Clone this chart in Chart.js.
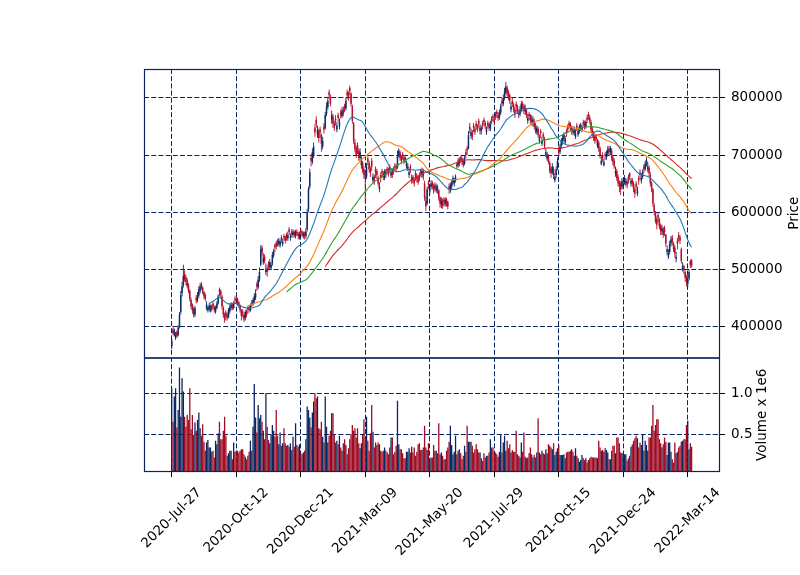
<!DOCTYPE html>
<html>
<head>
<meta charset="utf-8">
<script src="https://cdn.jsdelivr.net/npm/chart.js@4"></script>
<style>
  html, body { margin: 0; padding: 0; background: #fff; }
  canvas { display: block; }
</style>
</head>
<body>
<canvas id="chart" width="800" height="575"></canvas>
<script>
// daily candles, prices in thousands of won
const opens = [
  365,395,385,380,390,385,400,425,458,472, 492,486,480,472,462,446,438,430,420,450,
  446,454,462,474,468,460,455,432,428,430, 428,436,440,434,426,432,440,464,462,452,
  432,420,424,420,416,426,432,438,432,448, 450,448,442,436,428,426,420,414,426,432,
  434,428,442,438,444,450,474,468,482,508, 538,512,522,495,502,510,504,502,510,524,
  542,546,550,544,542,556,544,558,556,560, 554,570,555,566,560,565,558,566,562,556,
  568,566,558,563,558,570,605,645,695,688, 700,748,762,735,742,745,735,715,750,748,
  772,784,810,802,762,768,755,764,745,770, 750,775,768,780,786,782,810,808,818,808,
  785,755,722,712,718,708,695,682,686,675, 668,662,694,686,676,690,655,662,675,672,
  660,640,665,672,668,660,672,676,674,680, 664,672,676,682,680,678,700,705,698,702,
  696,696,680,676,665,680,655,662,656,668, 664,660,666,672,665,672,650,620,615,652,
  636,644,652,646,648,638,645,638,625,612, 620,622,614,622,618,645,638,645,652,650,
  655,684,682,692,696,694,690,685,705,712, 712,750,734,740,752,746,755,750,760,742,
  748,756,762,756,740,756,754,746,764,768, 764,772,776,770,766,774,795,790,800,810,
  818,810,805,780,795,788,780,790,785,776, 772,780,790,786,776,778,760,772,768,765,
  756,760,752,740,746,725,742,720,736,728, 700,694,698,686,676,670,676,656,665,678,
  710,706,716,724,728,722,742,750,756,754, 748,745,738,732,752,736,742,746,744,758,
  756,750,766,772,766,758,746,738,732,732, 716,722,712,684,700,682,702,696,702,712,
  705,708,696,690,668,672,662,652,650,645, 645,652,650,654,662,668,650,656,650,640,
  650,632,660,670,655,662,680,675,684,675, 678,665,650,640,612,598,588,595,588,576,
  566,570,572,560,530,522,530,545,555,545, 538,518,550,560,556,535,500,505,495,486,
  474,484,514,515
];
const highs = [
  380,400,396,390,393,402,425,462,478,508, 498,490,484,476,465,450,440,434,436,455,
  460,470,476,478,470,462,458,444,436,440, 438,438,444,437,436,444,456,468,465,455,
  436,424,428,424,432,438,442,440,444,452, 454,450,444,438,430,430,422,428,430,436,
  437,440,446,450,458,465,478,488,503,542, 542,528,526,510,506,514,518,512,530,536,
  545,550,553,555,552,560,554,562,559,564, 566,574,563,570,570,568,569,570,565,566,
  572,568,566,566,572,606,645,676,702,712, 722,755,768,752,746,750,738,732,756,776,
  792,802,815,806,778,772,760,770,758,774, 764,780,784,785,790,800,815,812,822,810,
  788,758,728,716,722,712,712,698,690,680, 672,686,698,690,680,695,668,666,680,676,
  664,652,670,676,672,675,676,680,678,684, 676,676,680,686,684,708,712,708,700,706,
  700,698,690,686,676,684,666,665,660,672, 668,664,670,676,678,676,655,628,645,656,
  648,656,655,650,652,650,648,640,628,626, 624,626,626,625,620,650,652,656,664,660,
  666,688,695,696,699,698,694,700,710,716, 742,756,746,744,756,750,760,754,764,754,
  752,760,766,760,750,760,758,760,768,772, 768,776,780,775,780,790,800,806,818,828,
  822,814,808,792,800,792,784,794,788,780, 786,795,794,790,788,782,772,776,772,770,
  768,764,756,752,750,736,746,732,740,732, 712,706,702,690,680,686,680,668,680,696,
  715,720,730,736,740,734,746,754,760,758, 752,750,750,744,756,748,754,756,754,762,
  760,762,770,776,770,762,750,742,736,736, 728,726,715,698,705,694,706,708,716,716,
  716,712,700,694,680,676,666,656,654,660, 656,665,660,658,666,670,660,660,654,645,
  654,645,664,675,668,675,684,690,696,688, 682,670,654,642,616,602,592,600,590,580,
  578,574,576,562,542,535,550,558,560,548, 542,530,555,565,560,538,512,508,498,490,
  488,500,517,518
];
const lows = [
  360,384,382,376,380,382,396,420,452,468, 478,472,466,458,444,430,422,416,416,440,
  442,450,458,464,456,448,444,428,424,426, 424,426,430,424,422,430,438,452,450,430,
  415,406,410,410,414,422,428,428,430,440, 442,436,432,424,410,416,407,410,416,422,
  424,426,434,436,440,446,462,465,478,505, 522,508,510,490,487,498,500,498,506,520,
  530,535,540,540,538,546,540,550,545,550, 550,560,550,556,555,556,554,558,552,552,
  560,556,554,552,554,566,600,640,680,684, 695,732,748,730,722,730,706,710,738,745,
  768,780,798,785,755,748,742,752,740,758, 745,764,765,768,775,778,798,795,805,785,
  755,720,705,695,702,690,690,676,668,658, 615,658,682,670,662,672,650,648,660,658,
  645,635,652,660,656,656,660,666,662,668, 660,660,666,672,670,676,696,690,684,692,
  684,686,676,672,660,668,650,650,645,655, 652,648,654,662,660,656,620,602,612,640,
  630,640,640,632,636,634,632,620,608,607, 606,610,610,610,605,632,634,640,648,645,
  652,676,678,680,686,682,678,682,694,700, 710,738,728,726,740,735,744,740,748,736,
  736,745,752,745,735,746,742,742,754,758, 752,762,765,760,762,770,784,786,796,806,
  802,796,790,775,784,775,765,775,772,765, 768,775,780,772,770,765,755,762,755,752,
  750,745,738,736,730,720,730,716,725,710, 696,690,684,668,660,666,658,652,660,674,
  698,702,712,718,724,718,732,740,746,742, 736,735,734,728,742,732,738,742,740,750,
  745,746,756,762,755,740,732,725,720,722, 712,706,694,682,688,680,692,692,698,700,
  700,690,682,676,662,655,645,635,630,640, 640,648,645,642,650,656,645,645,635,625,
  638,628,648,658,650,658,668,672,680,670, 662,645,635,610,594,580,570,582,570,560,
  560,555,558,540,525,518,526,540,542,530, 520,512,535,548,544,510,496,492,478,470,
  468,480,502,503
];
const closes = [
  375,388,392,386,383,398,420,455,470,488, 482,478,470,462,448,435,428,420,432,445,
  455,465,470,468,460,452,448,438,432,436, 433,430,435,428,432,440,452,460,455,435,
  420,412,418,415,428,434,438,432,440,445, 447,441,436,428,418,422,412,425,420,430,
  428,436,440,446,452,458,470,482,495,535, 528,520,515,500,495,505,512,508,525,532,
  538,540,545,550,548,552,548,555,550,556, 560,565,558,562,566,560,565,562,558,562,
  565,560,562,558,566,600,640,670,690,705, 715,740,755,745,730,740,720,725,745,770,
  785,795,805,790,770,755,748,760,752,765, 758,770,778,772,780,795,805,800,812,790,
  760,725,710,700,712,695,705,690,672,665, 660,680,688,675,668,680,662,655,670,665,
  650,645,660,668,662,670,665,672,668,675, 670,665,672,678,676,700,708,695,690,698,
  688,692,685,680,670,675,660,655,650,662, 658,652,660,668,672,662,625,610,640,648,
  642,650,645,638,642,645,638,625,615,620, 612,618,622,615,610,640,648,652,660,655,
  662,680,690,685,692,688,682,695,700,708, 735,745,740,732,748,740,750,745,755,748,
  742,752,758,750,745,752,748,755,760,765, 758,768,772,765,775,785,790,800,812,820,
  808,802,795,785,790,780,772,785,778,770, 780,790,785,778,782,770,765,768,760,758,
  762,750,742,748,735,730,738,725,732,715, 705,700,688,672,668,680,665,662,675,690,
  705,715,725,730,735,728,738,745,752,748, 742,740,745,738,748,742,750,752,748,755,
  750,758,762,768,760,745,738,730,725,728, 722,712,700,690,695,688,698,702,710,705,
  712,695,688,680,672,660,650,645,640,655, 650,660,655,648,658,662,655,650,640,632,
  645,638,655,665,660,670,675,685,692,680, 668,650,640,615,600,585,578,590,575,568,
  572,560,565,545,535,528,545,552,548,535, 528,522,545,555,550,515,505,498,485,478,
  482,495,508,506
];
// volume in millions of shares
const volumes = [
  1.06,0.66,0.96,1.06,0.59,0.80,1.31,0.72,1.18,1.02, 0.72,0.60,0.74,0.68,1.06,0.57,0.74,0.50,0.65,0.55,
  0.68,0.77,0.58,0.49,0.63,0.42,0.31,0.41,0.44,0.35, 0.35,0.30,0.31,0.23,0.43,0.39,0.52,0.66,0.45,0.45,
  0.55,0.72,0.49,0.25,0.28,0.31,0.31,0.21,0.41,0.30, 0.31,0.31,0.29,0.31,0.33,0.33,0.27,0.24,0.21,0.25,
  0.30,0.43,0.31,0.60,1.11,0.71,0.53,0.86,0.70,0.74, 0.66,0.55,0.45,1.00,0.60,0.44,0.40,0.50,0.62,0.55,
  0.48,0.80,0.49,0.39,0.53,0.37,0.40,0.58,0.40,0.37, 0.38,0.36,0.40,0.32,0.48,0.36,0.64,0.38,0.36,0.39,
  0.28,0.27,0.29,0.31,0.45,0.84,0.80,0.71,0.59,0.77, 0.90,1.00,0.94,0.96,0.58,0.57,0.66,0.48,0.41,0.96,
  0.60,0.41,0.49,0.55,0.76,0.76,0.50,0.41,0.43,0.39, 0.49,0.35,0.31,0.40,0.45,0.38,0.27,0.34,0.45,0.51,
  0.62,0.55,0.58,0.47,0.58,0.40,0.34,0.40,0.50,0.69, 0.47,0.72,0.43,0.31,0.52,0.86,0.54,0.35,0.41,0.38,
  0.41,0.39,0.31,0.30,0.31,0.35,0.31,0.29,0.27,0.35, 0.47,0.47,0.27,0.30,0.37,0.91,0.39,0.33,0.33,0.28,
  0.22,0.22,0.30,0.30,0.34,0.29,0.36,0.29,0.35,0.25, 0.30,0.39,0.40,0.32,0.32,0.35,0.61,0.35,0.32,0.40,
  0.21,0.23,0.23,0.38,0.31,0.31,0.28,0.64,0.27,0.29, 0.25,0.21,0.21,0.31,0.35,0.42,0.61,0.38,0.27,0.30,
  0.49,0.27,0.31,0.33,0.28,0.21,0.25,0.37,0.30,0.61, 0.42,0.42,0.42,0.37,0.29,0.33,0.39,0.33,0.29,0.29,
  0.22,0.19,0.28,0.23,0.25,0.25,0.29,0.45,0.35,0.35, 0.30,0.29,0.27,0.24,0.30,0.51,0.29,0.41,0.49,0.31,
  0.43,0.34,0.39,0.29,0.32,0.30,0.30,0.55,0.27,0.25, 0.23,0.41,0.30,0.53,0.24,0.22,0.23,0.28,0.35,0.27,
  0.23,0.26,0.23,0.29,0.70,0.29,0.27,0.31,0.28,0.27, 0.33,0.28,0.39,0.37,0.35,0.33,0.40,0.26,0.30,0.34,
  0.38,0.26,0.26,0.26,0.27,0.22,0.29,0.30,0.30,0.31, 0.33,0.30,0.25,0.34,0.25,0.22,0.18,0.20,0.26,0.22,
  0.20,0.22,0.17,0.20,0.22,0.24,0.23,0.23,0.23,0.23, 0.22,0.43,0.35,0.31,0.32,0.30,0.34,0.32,0.29,0.21,
  0.21,0.31,0.37,0.37,0.28,0.47,0.47,0.40,0.29,0.28, 0.28,0.27,0.27,0.19,0.22,0.25,0.36,0.39,0.43,0.46,
  0.49,0.46,0.35,0.41,0.38,0.51,0.31,0.43,0.38,0.31, 0.47,0.47,0.61,0.86,0.55,0.62,0.69,0.69,0.45,0.40,
  0.35,0.39,0.47,0.42,0.26,0.41,0.41,0.30,0.21,0.17, 0.41,0.28,0.30,0.35,0.37,0.42,0.43,0.45,0.45,0.62,
  0.67,0.33,0.40,0.36
];

// one x tick every 50 trading days
const tickIndex = [0, 50, 100, 150, 200, 250, 300, 350, 400];
const tickLabels = ['2020-Jul-27', '2020-Oct-12', '2020-Dec-21', '2021-Mar-09', '2021-May-20',
  '2021-Jul-29', '2021-Oct-15', '2021-Dec-24', '2022-Mar-14'];
const priceTicks = [400000, 500000, 600000, 700000, 800000];
const volTicks = [0.5, 1.0];
const mavPeriods = [30, 60, 90, 120];
const mavColors = ['#1f77b4', '#ff7f0e', '#2ca02c', '#d62728'];

const UP = '#102c66';
const DOWN = '#b30f2c';
const VUP = '#0b2760';
const VDOWN = '#a00c22';
const NAVY = '#0a2363';
const FONT = 'DejaVu Sans';

const isUp = (i) => closes[i] >= opens[i];
const candleColor = (ctx) => isUp(ctx.dataIndex) ? UP : DOWN;
const volColor = (ctx) => isUp(ctx.dataIndex) ? VUP : VDOWN;

function movingAverage(n) {
  const out = [];
  let sum = 0;
  for (let i = 0; i < closes.length; i++) {
    sum += closes[i];
    if (i >= n) sum -= closes[i - n];
    if (i >= n - 1) out.push({ x: i, y: sum / n * 1000 });
  }
  return out;
}

const wickData = closes.map((c, i) => ({ x: i, y: [lows[i] * 1000, highs[i] * 1000] }));
const bodyData = closes.map((c, i) => ({ x: i, y: [opens[i] * 1000, c * 1000] }));
const volData = volumes.map((v, i) => ({ x: i, y: v }));

const datasets = [
  { type: 'bar', data: wickData, yAxisID: 'y', backgroundColor: candleColor,
    barThickness: 0.9, grouped: false, inflateAmount: 0, order: 2 },
  { type: 'bar', data: bodyData, yAxisID: 'y', backgroundColor: candleColor,
    barThickness: 1.5, grouped: false, inflateAmount: 0, order: 2 },
  { type: 'bar', data: volData, yAxisID: 'yv', backgroundColor: volColor,
    barThickness: 1.3, grouped: false, inflateAmount: 0, order: 2 }
];
mavPeriods.forEach((n, k) => {
  datasets.push({ type: 'line', data: movingAverage(n), yAxisID: 'y', borderColor: mavColors[k],
    borderWidth: 1.1, pointRadius: 0, tension: 0, order: 0 });
});

const gridOpts = { color: NAVY, lineWidth: 1, offset: false, tickLength: 5, tickColor: '#000', tickWidth: 1, tickBorderDash: [] };
const borderOpts = { display: false, dash: [5, 2.2] };

// frames round both panels, rotated date labels, axis titles
const decorations = {
  id: 'decorations',
  afterDraw(chart) {
    const ctx = chart.ctx;
    const area = chart.chartArea;
    const py = chart.scales.y, vy = chart.scales.yv, xs = chart.scales.x;
    ctx.save();
    ctx.strokeStyle = NAVY;
    ctx.lineWidth = 1.2;
    ctx.strokeRect(area.left + 0.5, py.top + 0.5, area.right - area.left - 1, py.bottom - py.top);
    ctx.strokeRect(area.left + 0.5, vy.top + 0.5, area.right - area.left - 1, vy.bottom - vy.top - 1);

    ctx.fillStyle = '#000';
    ctx.font = '13.5px "' + FONT + '"';
    ctx.textAlign = 'center';
    ctx.textBaseline = 'middle';
    tickIndex.forEach((v, k) => {
      const px = xs.getPixelForValue(v);
      const w = ctx.measureText(tickLabels[k]).width;
      const cy = area.bottom + 15 + (w + 10) * 0.3536;
      ctx.save();
      ctx.translate(px, cy);
      ctx.rotate(-Math.PI / 4);
      ctx.fillText(tickLabels[k], 0, 0);
      ctx.restore();
    });

    [['Price', 794, (py.top + py.bottom) / 2], ['Volume x 1e6', 762, (vy.top + vy.bottom) / 2]]
      .forEach(([t, x, y]) => {
        ctx.save();
        ctx.translate(x, y);
        ctx.rotate(-Math.PI / 2);
        ctx.fillText(t, 0, 0);
        ctx.restore();
      });
    ctx.restore();
  }
};

new Chart(document.getElementById('chart'), {
  type: 'bar',
  data: { datasets },
  plugins: [decorations],
  options: {
    responsive: false,
    animation: false,
    devicePixelRatio: 1,
    layout: { padding: { left: 144, top: 69, right: 0, bottom: 0 } },
    plugins: { legend: { display: false }, tooltip: { enabled: false } },
    scales: {
      x: {
        type: 'linear', min: -21.5, max: 425, offset: false,
        grid: gridOpts, border: borderOpts,
        ticks: { display: false },
        afterBuildTicks: (s) => { s.ticks = tickIndex.map(v => ({ value: v })); },
        afterFit: (s) => { s.height = 103; }
      },
      y: {
        type: 'linear', position: 'right', stack: 'panels', stackWeight: 288.5,
        min: 345300, max: 850800,
        grid: gridOpts, border: borderOpts,
        ticks: { color: '#000', padding: 6, font: { family: FONT, size: 13.5 }, callback: (v) => String(v) },
        afterBuildTicks: (s) => { s.ticks = priceTicks.map(v => ({ value: v })); },
        afterFit: (s) => { s.width = 80; }
      },
      yv: {
        type: 'linear', position: 'right', stack: 'panels', stackWeight: 114.5,
        min: 0.056, max: 1.429,
        grid: gridOpts, border: borderOpts,
        ticks: { color: '#000', padding: 6, font: { family: FONT, size: 13.5 }, callback: (v) => v.toFixed(1) },
        afterBuildTicks: (s) => { s.ticks = volTicks.map(v => ({ value: v })); },
        afterFit: (s) => { s.width = 80; }
      }
    }
  }
});
</script>
</body>
</html>
